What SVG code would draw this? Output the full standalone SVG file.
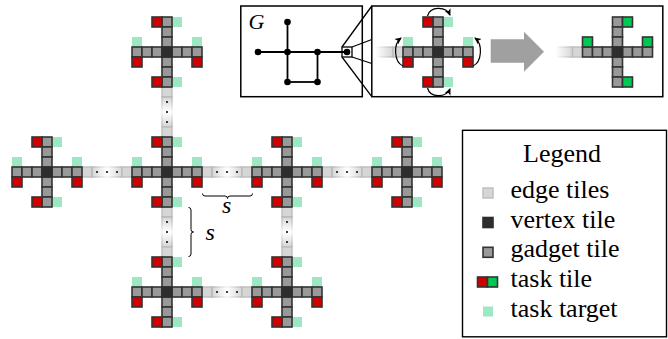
<svg xmlns="http://www.w3.org/2000/svg" width="668" height="339" viewBox="0 0 668 339">
<style>
.gt{fill:#999;stroke:#333;stroke-width:1.6}
.vt{fill:#2e2e2e;stroke:#2e2e2e;stroke-width:1.6}
.tr{fill:#d00000;stroke:#333;stroke-width:1.6}
.tg{fill:#00c853;stroke:#333;stroke-width:1.6}
.tt{fill:#9de8c3}
.et{fill:#d6d6d6;stroke:#bdbdbd;stroke-width:1.4}
.box{fill:#fff;stroke:#000;stroke-width:1.5}
.ln{stroke:#000;stroke-width:1.8;fill:none}
.thin{stroke:#000;stroke-width:1.3;fill:none}
.arc{stroke:#000;stroke-width:1.2;fill:none;marker-end:url(#ah)}
.txt{font-family:"Liberation Serif","Times New Roman",serif;fill:#000}
.it{font-family:"Liberation Serif","Times New Roman",serif;font-style:italic;fill:#000}
.dot{fill:#000}
</style>
<defs>
<linearGradient id="gh" x1="0" y1="0" x2="1" y2="0">
<stop offset="0" stop-color="#d6d6d6"/><stop offset="0.5" stop-color="#ffffff"/><stop offset="1" stop-color="#d6d6d6"/>
</linearGradient>
<linearGradient id="ghs" x1="0" y1="0" x2="1" y2="0">
<stop offset="0" stop-color="#b5b5b5"/><stop offset="0.5" stop-color="#f4f4f4"/><stop offset="1" stop-color="#b5b5b5"/>
</linearGradient>
<linearGradient id="gv" x1="0" y1="0" x2="0" y2="1">
<stop offset="0" stop-color="#d6d6d6"/><stop offset="0.5" stop-color="#ffffff"/><stop offset="1" stop-color="#d6d6d6"/>
</linearGradient>
<linearGradient id="gvs" x1="0" y1="0" x2="0" y2="1">
<stop offset="0" stop-color="#b5b5b5"/><stop offset="0.5" stop-color="#f4f4f4"/><stop offset="1" stop-color="#b5b5b5"/>
</linearGradient>
<linearGradient id="gf" x1="0" y1="0" x2="1" y2="0">
<stop offset="0" stop-color="#d6d6d6" stop-opacity="0"/><stop offset="1" stop-color="#d6d6d6" stop-opacity="1"/>
</linearGradient>
<linearGradient id="gfs" x1="0" y1="0" x2="1" y2="0">
<stop offset="0" stop-color="#bdbdbd" stop-opacity="0"/><stop offset="1" stop-color="#bdbdbd" stop-opacity="1"/>
</linearGradient>
<marker id="ah" viewBox="0 0 8 8" refX="6" refY="4" markerWidth="8" markerHeight="8" markerUnits="userSpaceOnUse" orient="auto">
<path d="M0,0.8 L7,4 L0,7.2 L1.8,4 z" fill="#000"/>
</marker>
<g id="arms">
<rect class="gt" x="-35" y="-5" width="10" height="10"/>
<rect class="gt" x="-25" y="-5" width="10" height="10"/>
<rect class="gt" x="-15" y="-5" width="10" height="10"/>
<rect class="gt" x="5" y="-5" width="10" height="10"/>
<rect class="gt" x="15" y="-5" width="10" height="10"/>
<rect class="gt" x="25" y="-5" width="10" height="10"/>
<rect class="gt" x="-5" y="-35" width="10" height="10"/>
<rect class="gt" x="-5" y="-25" width="10" height="10"/>
<rect class="gt" x="-5" y="-15" width="10" height="10"/>
<rect class="gt" x="-5" y="5" width="10" height="10"/>
<rect class="gt" x="-5" y="15" width="10" height="10"/>
<rect class="gt" x="-5" y="25" width="10" height="10"/>
<rect class="vt" x="-5" y="-5" width="10" height="10"/>
</g>
<g id="gadget">
<rect class="tt" x="5" y="-35" width="10" height="10"/>
<rect class="tt" x="5" y="25" width="10" height="10"/>
<rect class="tt" x="-35" y="-15" width="10" height="10"/>
<rect class="tt" x="25" y="-15" width="10" height="10"/>
<use href="#arms"/>
<rect class="tr" x="-15" y="-35" width="10" height="10"/>
<rect class="tr" x="-15" y="25" width="10" height="10"/>
<rect class="tr" x="-35" y="5" width="10" height="10"/>
<rect class="tr" x="25" y="5" width="10" height="10"/>
</g>
<g id="gadget-solved">
<use href="#arms"/>
<rect class="tg" x="5" y="-35" width="10" height="10"/>
<rect class="tg" x="5" y="25" width="10" height="10"/>
<rect class="tg" x="-35" y="-15" width="10" height="10"/>
<rect class="tg" x="25" y="-15" width="10" height="10"/>
</g>
<g id="edge-h">
<rect class="et" x="0" y="-5" width="10" height="10"/>
<rect x="10" y="-5" width="30" height="10" fill="url(#gh)" stroke="url(#ghs)" stroke-width="1.4"/>
<rect class="et" x="40" y="-5" width="10" height="10"/>
<circle class="dot" cx="15" cy="0" r="1"/><circle class="dot" cx="25" cy="0" r="1"/><circle class="dot" cx="35" cy="0" r="1"/>
</g>
<g id="edge-v">
<rect class="et" x="-5" y="0" width="10" height="10"/>
<rect x="-5" y="10" width="10" height="30" fill="url(#gv)" stroke="url(#gvs)" stroke-width="1.4"/>
<rect class="et" x="-5" y="40" width="10" height="10"/>
<circle class="dot" cx="0" cy="15" r="1"/><circle class="dot" cx="0" cy="25" r="1"/><circle class="dot" cx="0" cy="35" r="1"/>
</g>
</defs>

<g id="connectors">
<use href="#edge-v" transform="translate(167,87)"/>
<use href="#edge-h" transform="translate(82,172)"/>
<use href="#edge-h" transform="translate(202,172)"/>
<use href="#edge-h" transform="translate(322,172)"/>
<use href="#edge-v" transform="translate(167,207)"/>
<use href="#edge-v" transform="translate(287,207)"/>
<use href="#edge-h" transform="translate(202,292)"/>
</g>

<g id="node-top" transform="translate(167,52)"><use href="#gadget"/></g>
<g id="node-left" transform="translate(47,172)"><use href="#gadget"/></g>
<g id="node-center" transform="translate(167,172)"><use href="#gadget"/></g>
<g id="node-right" transform="translate(287,172)"><use href="#gadget"/></g>
<g id="node-far-right" transform="translate(407,172)"><use href="#gadget"/></g>
<g id="node-bottom-left" transform="translate(167,292)"><use href="#gadget"/></g>
<g id="node-bottom-right" transform="translate(287,292)"><use href="#gadget"/></g>

<g id="spacing">
<path class="thin" style="stroke-width:1" d="M202.5,193.5 Q202.5,196 205,196 L225,196 Q227.5,196 227.5,198.5 Q227.5,196 230,196 L250,196 Q252.5,196 252.5,193.5"/>
<path class="thin" style="stroke-width:1" d="M188.5,207.5 Q191,207.5 191,210 L191,229.5 Q191,232 193.5,232 Q191,232 191,234.5 L191,254 Q191,256.5 188.5,256.5"/>
<text class="it" x="222" y="213.3" font-size="24">s</text>
<text class="it" x="205.5" y="240" font-size="24">s</text>
</g>

<g id="graph-inset">
<rect class="box" x="240.8" y="6" width="121.5" height="90.7"/>
<text class="it" x="248.5" y="28.5" font-size="22">G</text>
<g class="ln">
<line x1="258" y1="52" x2="347" y2="52"/>
<line x1="287.5" y1="22" x2="287.5" y2="82"/>
<line x1="287.5" y1="82" x2="317.5" y2="82"/>
<line x1="317.5" y1="52" x2="317.5" y2="82"/>
</g>
<circle cx="258" cy="52" r="3.3"/>
<circle cx="287.5" cy="52" r="3.3"/>
<circle cx="287.5" cy="22" r="3.3"/>
<circle cx="317.5" cy="52" r="3.3"/>
<circle cx="287.5" cy="82" r="3.3"/>
<circle cx="317.5" cy="82" r="3.3"/>
<rect x="342" y="47" width="10" height="10" fill="none" stroke="#000" stroke-width="1.3"/>
<circle cx="347" cy="52" r="3.3"/>
</g>

<g id="zoom-lines" class="thin">
<line x1="342" y1="47" x2="371.8" y2="6"/>
<line x1="352" y1="47" x2="371.8" y2="39.5"/>
<line x1="352" y1="57" x2="371.8" y2="63.5"/>
<line x1="342" y1="57" x2="371.8" y2="96.7"/>
</g>

<g id="task-inset">
<rect class="box" x="371.8" y="6" width="291" height="90.7"/>
<rect x="376" y="47" width="17" height="10" fill="url(#gf)" stroke="url(#gfs)" stroke-width="1.4"/>
<rect class="et" x="393" y="47" width="10" height="10"/>
<g id="inset-gadget" transform="translate(438,52)"><use href="#gadget"/></g>
<path class="arc" d="M427.5,16 C430,6 446,6 450,15"/>
<path class="arc" d="M427.5,88 C430,98 446,98 450,89"/>
<path class="arc" d="M403,66 C394,62 393,44 401,38"/>
<path class="arc" d="M473,66 C482,62 483,44 475,38"/>
<path id="big-arrow" d="M490.7,39.3 L524,39.3 L524,31.7 L544,51.7 L524,71.7 L524,62.7 L490.7,62.7 z" fill="#a0a0a0"/>
<rect x="556" y="47" width="16.5" height="10" fill="url(#gf)" stroke="url(#gfs)" stroke-width="1.4"/>
<rect class="et" x="572.5" y="47" width="10" height="10"/>
<g id="inset-gadget-solved" transform="translate(617.5,52)"><use href="#gadget-solved"/></g>
</g>

<g id="legend">
<rect class="box" x="462.5" y="130.3" width="204" height="206.5" style="stroke-width:1.4"/>
<text class="txt" x="562" y="161.5" font-size="26" text-anchor="middle">Legend</text>
<rect class="et" x="483" y="188" width="10" height="10"/>
<text class="txt" x="510.5" y="198.3" font-size="26">edge tiles</text>
<rect class="vt" x="483" y="217.5" width="10" height="10"/>
<text class="txt" x="510.5" y="227.8" font-size="26">vertex tile</text>
<rect class="gt" x="483" y="247.3" width="10" height="10"/>
<text class="txt" x="510.5" y="257.3" font-size="26">gadget tile</text>
<rect class="tr" x="477.5" y="277" width="10" height="10"/>
<rect class="tg" x="487.5" y="277" width="10" height="10"/>
<text class="txt" x="510.5" y="287.2" font-size="26">task tile</text>
<rect class="tt" x="483" y="306.5" width="10" height="10"/>
<text class="txt" x="510.5" y="317.2" font-size="26">task target</text>
</g>
</svg>
